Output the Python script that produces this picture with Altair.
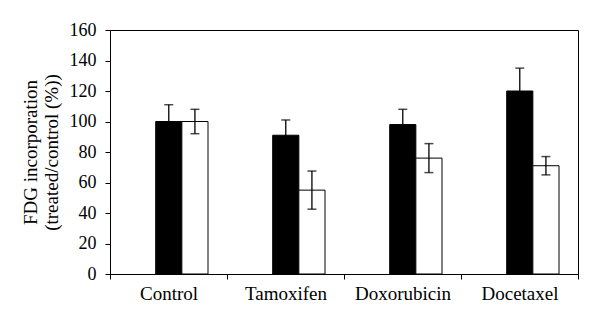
import altair as alt
import pandas as pd

categories = ["Control", "Tamoxifen", "Doxorubicin", "Docetaxel"]
series = ["A", "B"]
values_a = [100, 91, 98, 120]
errors_a = [11, 10, 10, 15]
values_b = [100, 55, 76, 71]
errors_b = [8, 12.5, 9.5, 6]

rows = []
for i, c in enumerate(categories):
    rows.append({"cat": c, "s": "A", "v": values_a[i], "lo": values_a[i] - errors_a[i], "hi": values_a[i] + errors_a[i]})
    rows.append({"cat": c, "s": "B", "v": values_b[i], "lo": values_b[i] - errors_b[i], "hi": values_b[i] + errors_b[i]})
df = pd.DataFrame(rows)

FONT = "Liberation Serif"
LFONT = "'Liberation Serif', 'Times New Roman', serif"
TITLE = ["FDG incorporation", "(treated/control (%))"]
YTICKS = [0, 20, 40, 60, 80, 100, 120, 140, 160]

x = alt.X("cat:N", sort=categories, title=None,
          scale=alt.Scale(paddingInner=0, paddingOuter=0),
          axis=alt.Axis(tickBand="extent", labelAngle=0, labelPadding=5,
                        labelFont=LFONT, labelFontSize=19, labelColor="black"))
xo = alt.XOffset("s:N", sort=series, scale=alt.Scale(range=[45.7, 98], paddingInner=0, paddingOuter=0))
yaxis = alt.Axis(values=YTICKS, grid=False, labelFont=LFONT, labelFontSize=18, labelColor="black",
                 labelOverlap=False, labelPadding=9, titlePadding=8,
                 titleFont=FONT, titleFontSize=19, titleFontWeight="normal", titleColor="black",
                 titleLineHeight=21)
y = alt.Y("v:Q", title=TITLE, scale=alt.Scale(domain=[0, 160], nice=False), axis=yaxis)

base = alt.Chart(df)
bars = base.mark_bar(stroke="black", strokeWidth=1).encode(
    x=x, xOffset=xo, y=y,
    fill=alt.Fill("s:N", scale=alt.Scale(domain=series, range=["black", "white"]), legend=None),
)
rules = base.mark_rule(color="black", strokeWidth=1.3).encode(
    x=x, xOffset=xo, y=alt.Y("lo:Q", axis=yaxis, title=TITLE), y2="hi:Q")
caps_hi = base.mark_tick(color="black", thickness=1.5, size=9, orient="horizontal").encode(
    x=x, xOffset=xo, y=alt.Y("hi:Q", axis=yaxis, title=TITLE))
caps_lo = base.mark_tick(color="black", thickness=1.5, size=9, orient="horizontal").encode(
    x=x, xOffset=xo, y=alt.Y("lo:Q", axis=yaxis, title=TITLE))

chart = alt.layer(bars, rules, caps_hi, caps_lo).properties(
    width=468, height=244,
    autosize=alt.AutoSizeParams(type="none"),
    padding={"left": 110, "top": 30, "right": 22, "bottom": 52},
    background="white",
).configure(
    font=FONT,
).configure_view(stroke="black", strokeWidth=1).configure_axis(
    domainColor="black", tickColor="black", tickSize=5, grid=False,
)

chart.save("out.html", embed_options={"renderer": "svg", "actions": False})
